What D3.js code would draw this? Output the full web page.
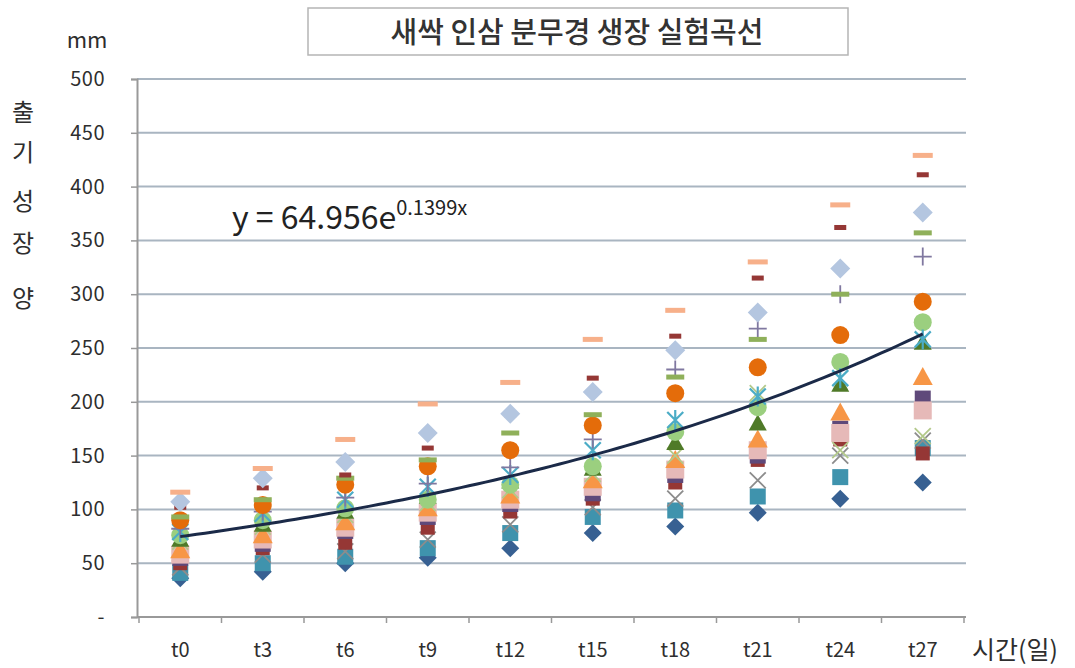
<!DOCTYPE html>
<html><head><meta charset="utf-8">
<script src="https://cdn.jsdelivr.net/npm/d3@7"></script>
<style>
body{margin:0;background:#fff;}
text{font-family:"Noto Sans CJK KR","Noto Sans",sans-serif;fill:#2e2e2e;}
</style></head>
<body><svg id="c" width="1075" height="668"></svg>
<script>
const categories = ["t0","t3","t6","t9","t12","t15","t18","t21","t24","t27"];
const yTicks = [0,50,100,150,200,250,300,350,400,450,500];
const yTickLabels = ["-","50","100","150","200","250","300","350","400","450","500"];
const title = "새싹 인삼 분무경 생장 실험곡선";
const yTitle = ["출","기","성","장","양"];
const unitLabel = "mm";
const xTitle = "시간(일)";
const trendA = 64.956, trendB = 0.1399;

const s1  = [36,42,50,55,64,78,84,97,110,125];
const s2  = [41,50,56,64,78,93,99,112,130,157];
const s3  = [46,58,61,72,86,102,110,127,150,164];
const s4  = [50,64,69,83,98,110,125,146,165,152];
const s5  = [58,72,83,97,109,121,137,155,171,192];
const s6  = [55,68,80,93,105,115,132,150,175,203];
const s7  = [62,76,88,101,113,127,146,165,190,223];
const s8  = [72,86,98,112,126,138,162,180,216,255];
const s9  = [76,90,101,109,123,140,172,195,237,274];
const s10 = [79,96,109,121,132,155,183,205,222,258];
const s11 = [82,98,111,124,139,165,230,268,300,335];
const s12 = [90,104,123,140,155,178,208,232,262,293];
const s13 = [93,109,129,146,171,188,223,258,300,357];
const s14 = [102,120,132,157,188,222,261,315,362,411];
const s15 = [107,129,144,171,189,209,248,283,324,376];
const s16 = [116,138,165,198,218,258,285,330,383,429];
const s17 = [70,84,95,106,118,133,150,208,155,168];

const seriesList = [
  {v:s1,  shape:"diamond",  color:"#376092", size:9},
  {v:s2,  shape:"square",   color:"#3f93ad", size:8},
  {v:s3,  shape:"x",        color:"#8c8c8c", size:8},
  {v:s4,  shape:"square",   color:"#953735", size:7},
  {v:s6,  shape:"square",   color:"#5f497a", size:8},
  {v:s5,  shape:"square",   color:"#e6b9b8", size:9},
  {v:s7,  shape:"triangle", color:"#f79646", size:10},
  {v:s17, shape:"x",        color:"#b3c98a", size:8},
  {v:s8,  shape:"triangle", color:"#4f7a28", size:9},
  {v:s9,  shape:"circle",   color:"#9bcf7f", size:9},
  {v:s10, shape:"star",     color:"#4bacc6", size:8},
  {v:s11, shape:"plus",     color:"#8078a0", size:9},
  {v:s12, shape:"circle",   color:"#e46c0a", size:9},
  {v:s13, shape:"dash",     color:"#8fb05a", size:9},
  {v:s14, shape:"dash",     color:"#953735", size:6},
  {v:s15, shape:"diamond",  color:"#b4c6e0", size:10},
  {v:s16, shape:"dash",     color:"#f7b08a", size:10}
];

const svg = d3.select("#c");
const x = d3.scaleBand().domain(categories).range([139,964]).padding(0);
const y = d3.scaleLinear().domain([0,500]).range([617,79]);
const cx = c => x(c) + x.bandwidth()/2;

// title box
svg.append("rect").attr("x",308).attr("y",8).attr("width",540).attr("height",47)
  .attr("fill","#fff").attr("stroke","#b5b5b5").attr("stroke-width",1.5);
svg.append("text").attr("x",577).attr("y",43).attr("text-anchor","middle")
  .attr("font-size",29).style("fill","#333").style("font-weight",500).text(title);

// gridlines
svg.append("g").selectAll("line").data(yTicks.filter(d=>d>0)).join("line")
  .attr("x1",137).attr("x2",966).attr("y1",d=>y(d)).attr("y2",d=>y(d))
  .attr("stroke","#a9b5c1").attr("stroke-width",2);

// y axis
const ya = svg.append("g").attr("transform","translate(137,0)")
  .call(d3.axisLeft(y).tickValues(yTicks).tickSize(6).tickPadding(26)
    .tickFormat((d,i)=>yTickLabels[i]));
ya.select(".domain").attr("stroke","#999").attr("stroke-width",2);
ya.selectAll(".tick line").attr("stroke","#999").attr("stroke-width",1.5);
ya.selectAll(".tick text").attr("font-size",20).style("fill","#2e2e2e")
  .attr("font-family","'Noto Sans CJK KR',sans-serif")
  .attr("letter-spacing",0.5);

// x axis
const xa = svg.append("g").attr("transform","translate(0,617)");
xa.append("line").attr("x1",137).attr("x2",966).attr("y1",0).attr("y2",0)
  .attr("stroke","#999").attr("stroke-width",2);
xa.selectAll("line.t").data(d3.range(categories.length+1)).join("line").attr("class","t")
  .attr("x1",i=>x.range()[0]+i*x.step()).attr("x2",i=>x.range()[0]+i*x.step())
  .attr("y1",0).attr("y2",6).attr("stroke","#999").attr("stroke-width",1.5);
xa.selectAll("text").data(categories).join("text")
  .attr("x",d=>cx(d)).attr("y",40).attr("text-anchor","middle")
  .attr("font-size",20).text(d=>d);

// axis titles
svg.append("text").attr("x",87).attr("y",48).attr("text-anchor","middle")
  .attr("font-size",22).text(unitLabel);
const yTitleY = [112,152,201,243,298];
svg.selectAll("text.yt").data(yTitle).join("text").attr("class","yt")
  .attr("x",23).attr("y",(d,i)=>yTitleY[i]+9).attr("text-anchor","middle")
  .attr("font-size",24).text(d=>d);
svg.append("text").attr("x",1015).attr("y",659).attr("text-anchor","middle")
  .attr("font-size",25).text(xTitle);

// markers
const mg = svg.append("g");
seriesList.forEach(s=>{
  const r = s.size;
  const g = mg.append("g");
  const pts = categories.map((c,i)=>({c, v:s.v[i]}));
  const sel = g.selectAll("g").data(pts).join("g")
    .attr("transform",d=>`translate(${cx(d.c)},${y(d.v)})`);
  if (s.shape==="diamond"){
    sel.append("path").attr("d",`M0,${-r}L${r},0L0,${r}L${-r},0Z`).attr("fill",s.color);
  } else if (s.shape==="square"){
    sel.append("rect").attr("x",-r).attr("y",-r).attr("width",2*r).attr("height",2*r).attr("fill",s.color);
  } else if (s.shape==="triangle"){
    sel.append("path").attr("d",`M0,${-r}L${r},${r*0.8}L${-r},${r*0.8}Z`).attr("fill",s.color);
  } else if (s.shape==="circle"){
    sel.append("circle").attr("r",r).attr("fill",s.color);
  } else if (s.shape==="dash"){
    sel.append("rect").attr("x",-r).attr("y",-2.5).attr("width",2*r).attr("height",5).attr("fill",s.color);
  } else if (s.shape==="plus"){
    sel.append("path").attr("d",`M${-r},0H${r}M0,${-r}V${r}`).attr("stroke",s.color).attr("stroke-width",1.8);
  } else if (s.shape==="x"){
    sel.append("path").attr("d",`M${-r},${-r}L${r},${r}M${-r},${r}L${r},${-r}`).attr("stroke",s.color).attr("stroke-width",1.8);
  } else if (s.shape==="star"){
    sel.append("path").attr("d",`M${-r},${-r}L${r},${r}M${-r},${r}L${r},${-r}M0,${-r-2}V${r+2}`).attr("stroke",s.color).attr("stroke-width",2.2);
  }
});

// trend line
const xi = d3.scaleLinear().domain([1,categories.length]).range([cx(categories[0]), cx(categories[categories.length-1])]);
const tpts = d3.range(1,categories.length+0.001,0.1).map(t=>[xi(t), y(trendA*Math.exp(trendB*t))]);
svg.append("path").attr("d",d3.line()(tpts)).attr("fill","none")
  .attr("stroke","#1b2a48").attr("stroke-width",3);

// equation
const eq = svg.append("text").attr("x",232).attr("y",229).attr("font-size",32).style("fill","#222");
eq.append("tspan").text("y = 64.956e");
eq.append("tspan").attr("dy",-14).attr("font-size",20).text("0.1399x");
</script></body></html>
